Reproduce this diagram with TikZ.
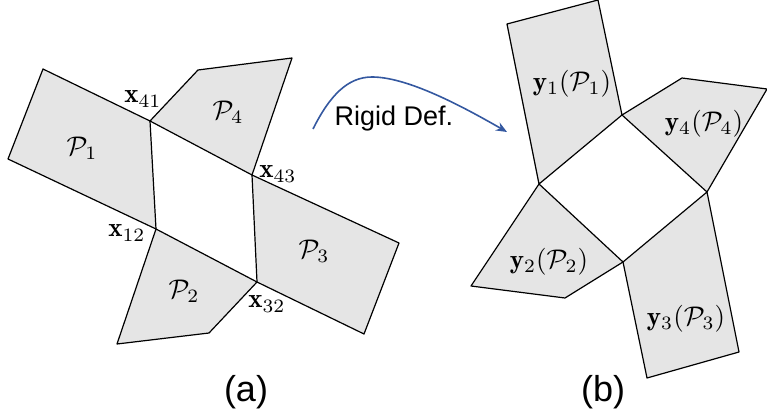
\documentclass[tikz,border=0pt]{standalone}
\usepackage{fontspec}
\newfontfamily\helvfont{Liberation Sans}
\usetikzlibrary{arrows.meta}
\definecolor{defblue}{RGB}{52,88,160}

\begin{document}
\begin{tikzpicture}[
    x=1pt, y=-1pt,
    patch/.style={fill=black!10, draw=black, line width=1.2pt, line join=round},
    mlabel/.style={scale=2.7, inner sep=0pt},
    vlabel/.style={scale=2.7, inner sep=0pt},
    caption/.style={font=\helvfont\fontsize{36}{40}\selectfont, inner sep=0pt},
    defword/.style={font=\helvfont\fontsize{27}{30}\selectfont, inner sep=0pt},
    deform/.style={-{Stealth[length=11pt,width=9pt]}, line width=1.6pt, defblue}
]
\useasboundingbox (0,0) rectangle (767,419);

% ============== (a) Configuracion de referencia ==============
\coordinate (x41) at (150,121);
\coordinate (x43) at (252,175);
\coordinate (x12) at (156,229);
\coordinate (x32) at (257,282);

\filldraw[patch] (43,69) -- (x41) -- (x12) -- (8,159) -- cycle;
\filldraw[patch] (x41) -- (198,70) -- (292,58) -- (x43) -- cycle;
\filldraw[patch] (x12) -- (x32) -- (209,333) -- (117,344) -- cycle;
\filldraw[patch] (x43) -- (399,243) -- (364,334) -- (x32) -- cycle;

\node[mlabel] (p1) at (82,148) {$\mathcal{P}_1$};
\node[mlabel] (p4) at (228,112) {$\mathcal{P}_4$};
\node[mlabel] (p2) at (184,291) {$\mathcal{P}_2$};
\node[mlabel] (p3) at (314,251) {$\mathcal{P}_3$};

\node[vlabel] (l41) at (143,99) {$\mathbf{x}_{41}$};
\node[vlabel] (l43) at (278,174) {$\mathbf{x}_{43}$};
\node[vlabel] (l12) at (127,233) {$\mathbf{x}_{12}$};
\node[vlabel] (l32) at (267,304) {$\mathbf{x}_{32}$};

% ============== (b) Configuracion deformada ==============
\coordinate (q1) at (622,115);
\coordinate (q2) at (539,184);
\coordinate (q3) at (623,262);
\coordinate (q4) at (707,192);

\filldraw[patch] (507,24) -- (598,0) -- (q1) -- (q2) -- cycle;
\filldraw[patch] (q1) -- (682,78) -- (767,89) -- (q4) -- cycle;
\filldraw[patch] (q2) -- (q3) -- (565,298) -- (471,286) -- cycle;
\filldraw[patch] (q3) -- (q4) -- (739,352) -- (647,378) -- cycle;

\node[mlabel] (y1) at (572,84) {$\mathbf{y}_1(\mathcal{P}_1)$};
\node[mlabel] (y4) at (704,124) {$\mathbf{y}_4(\mathcal{P}_4)$};
\node[mlabel] (y2) at (549,262) {$\mathbf{y}_2(\mathcal{P}_2)$};
\node[mlabel] (y3) at (686,319) {$\mathbf{y}_3(\mathcal{P}_3)$};

% ============== Deformacion rigida ==============
\coordinate (defstart) at (313,129);
\coordinate (defpeak) at (372,77);
\coordinate (defend) at (507,132);
\draw[deform] (defstart) .. controls (330,95) and (348,77) .. (defpeak)
    .. controls (405,77) and (455,102) .. (defend);
\node[defword] (rigid) at (394,119) {Rigid Def.};

% ============== Subtitulos ==============
\node[caption] (capa) at (246,392) {(a)};
\node[caption] (capb) at (603,392) {(b)};
\end{tikzpicture}
\end{document}
